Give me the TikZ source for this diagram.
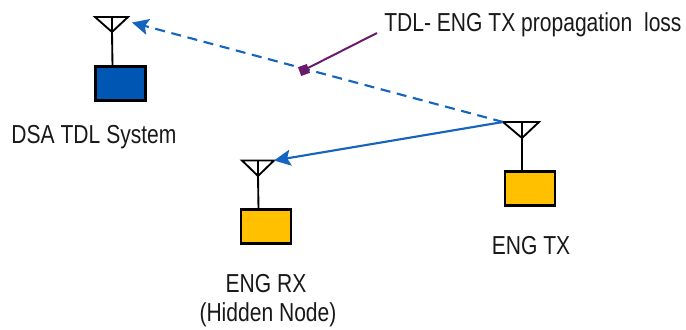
\documentclass[tikz,border=0pt]{standalone}
\usepackage{fontspec}
\setmainfont{Liberation Sans}
\definecolor{dsablue}{HTML}{0056B3}
\definecolor{engyellow}{HTML}{FFC000}
\definecolor{linkblue}{HTML}{1565C0}
\definecolor{lossviolet}{HTML}{6A1B6A}
\usetikzlibrary{arrows.meta}
\newcommand{\narrowtxt}[1]{\scalebox{0.81}[1]{#1}}
\tikzset{
  radiobox/.style={draw=black,line width=1.6pt,minimum width=37.5pt,minimum height=25.5pt,inner sep=0pt},
  antline/.style={draw=black,line width=1.4pt,line join=miter},
  lbl/.style={font=\fontsize{19.5}{23}\selectfont,text=black!90,inner sep=0pt,anchor=base},
  linkline/.style={draw=linkblue,line width=1.6pt,-{Stealth[length=12.5pt,width=12pt,inset=2.5pt]}},
}
\begin{document}
\begin{tikzpicture}[x=0.75pt,y=-0.75pt]
\useasboundingbox (0,0) rectangle (686,329);
% boxes
\node[radiobox,fill=dsablue] (dsa) at (120.5,83.5) {};
\node[radiobox,fill=engyellow] (tx) at (530,188.5) {};
\node[radiobox,fill=engyellow] (rx) at (266,226.5) {};
% antennas
\coordinate (aA) at (95,17); \coordinate (bA) at (128,17); \coordinate (cA) at (112,32);
\coordinate (aT) at (503,122); \coordinate (bT) at (539,122); \coordinate (cT) at (522,138);
\coordinate (aR) at (242,160.5); \coordinate (bR) at (274,160.5); \coordinate (cR) at (258,176);
\draw[antline] (aA) -- (bA) -- (cA) -- cycle (112,17) -- (cA) -- (112.5,66);
\draw[antline] (aT) -- (bT) -- (cT) -- cycle (522,122) -- (cT) -- (522,171);
\draw[antline] (aR) -- (bR) -- (cR) -- cycle (258,160.5) -- (cR) -- (258.5,209);
% links
\coordinate (end1) at (132,22.5);
\draw[linkline,dash pattern=on 7.5pt off 5pt] (aT) -- (end1);
\draw[linkline] (aT) -- (bR);
% loss pointer
\coordinate (lm) at (304,70);
\coordinate (lt) at (377,33);
\draw[lossviolet,line width=1.5pt] (lm) -- (lt);
\node[fill=lossviolet,minimum size=7pt,inner sep=0pt,rotate=20] (marker) at (lm) {};
% labels
\node[lbl,anchor=base west] (losslbl) at (384,31) {\narrowtxt{TDL- ENG TX propagation\ \ loss}};
\node[lbl] (dsalbl) at (94,143) {\narrowtxt{DSA TDL System}};
\node[lbl] (txlbl) at (531,254) {\narrowtxt{ENG TX}};
\node[lbl] (rxlbl) at (266,292) {\narrowtxt{ENG RX}};
\node[lbl] (hidden) at (268,321) {\narrowtxt{(Hidden Node)}};
\end{tikzpicture}
\end{document}
